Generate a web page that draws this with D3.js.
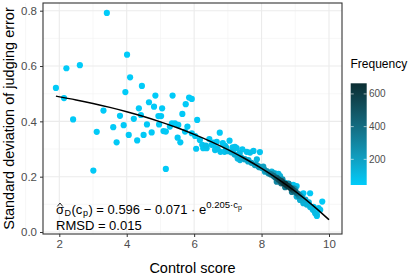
<!DOCTYPE html>
<html>
<head>
<meta charset="utf-8">
<style>
  html, body { margin: 0; padding: 0; background: white; }
  svg { display: block; font-family: "Liberation Sans", Arial, sans-serif; }
</style>
</head>
<body>
<svg width="415" height="277"></svg>
<script src="https://cdnjs.cloudflare.com/ajax/libs/d3/7.8.5/d3.min.js"></script>
<script>
// observed points: control score, sd of judging error, frequency
const controlScore = [
  1.90, 2.14, 2.21, 2.41, 2.61, 3.01, 3.11, 3.31, 3.41, 3.60,
  3.70, 3.80, 3.91, 3.96, 4.01, 4.06, 4.10, 4.21, 4.31, 4.36,
  4.42, 4.45, 4.50, 4.60, 4.66, 4.74, 4.81, 4.85, 4.94, 4.96,
  5.02, 5.05, 5.09, 5.16, 5.16, 5.28, 5.34, 5.36, 5.43, 5.51,
  5.53, 5.59, 5.65, 5.73, 5.75, 5.80, 5.85, 5.93, 5.93, 6.03,
  6.06, 6.09, 6.17, 6.24, 6.27, 6.37, 6.45, 6.52, 6.57, 6.62,
  6.64, 6.67, 6.76, 6.78, 6.85, 6.90, 6.92, 7.05, 7.14, 7.21,
  7.26, 7.29, 7.36, 7.38, 7.43, 7.51, 7.56, 7.61, 7.66, 7.76,
  7.83, 7.86, 7.93, 7.95, 8.05, 8.10, 8.20, 8.30, 8.40, 8.50,
  8.55, 7.00, 7.10, 7.20, 7.30, 7.40, 7.50, 7.60, 7.70, 7.80,
  7.90, 7.15, 7.35, 8.00, 8.08, 8.15, 8.22, 8.28, 8.35, 8.40,
  8.45, 8.50, 8.55, 8.60, 8.65, 8.70, 8.75, 8.80, 8.85, 8.90,
  8.95, 9.00, 9.05, 9.10, 9.15, 9.20, 9.30, 9.40, 8.45, 8.62,
  8.70, 8.80, 8.95, 8.35, 8.58, 8.90, 9.00, 9.10, 8.60, 8.70,
  8.80, 8.94, 9.04, 9.24, 9.44, 9.14, 9.80, 9.37, 9.64, 9.23,
  9.04, 9.14, 9.24, 9.34, 9.44, 9.52, 9.59, 9.64, 9.69, 9.74,
  9.54, 6.35, 6.70, 6.95
];
const sdError = [
  0.521, 0.484, 0.592, 0.407, 0.603, 0.222, 0.362, 0.439, 0.792, 0.379,
  0.324, 0.420, 0.386, 0.506, 0.641, 0.351, 0.559, 0.409, 0.331, 0.447,
  0.423, 0.528, 0.351, 0.389, 0.469, 0.360, 0.453, 0.493, 0.419, 0.389,
  0.419, 0.447, 0.365, 0.363, 0.228, 0.381, 0.393, 0.493, 0.393, 0.341,
  0.387, 0.324, 0.427, 0.363, 0.462, 0.381, 0.486, 0.481, 0.357, 0.347,
  0.301, 0.405, 0.333, 0.315, 0.303, 0.303, 0.336, 0.315, 0.323, 0.296,
  0.303, 0.326, 0.359, 0.290, 0.321, 0.290, 0.311, 0.330, 0.306, 0.308,
  0.303, 0.266, 0.260, 0.270, 0.299, 0.263, 0.290, 0.260, 0.287, 0.293,
  0.245, 0.263, 0.234, 0.289, 0.236, 0.218, 0.212, 0.218, 0.212, 0.210,
  0.202, 0.292, 0.288, 0.280, 0.272, 0.268, 0.263, 0.255, 0.250, 0.242,
  0.238, 0.295, 0.285, 0.232, 0.226, 0.220, 0.212, 0.208, 0.203, 0.198,
  0.196, 0.190, 0.186, 0.183, 0.176, 0.174, 0.168, 0.165, 0.160, 0.155,
  0.150, 0.146, 0.140, 0.136, 0.130, 0.125, 0.117, 0.107, 0.182, 0.190,
  0.162, 0.175, 0.158, 0.212, 0.176, 0.145, 0.155, 0.130, 0.185, 0.178,
  0.174, 0.170, 0.166, 0.140, 0.140, 0.134, 0.110, 0.106, 0.058, 0.116,
  0.128, 0.116, 0.104, 0.099, 0.090, 0.080, 0.068, 0.062, 0.086, 0.080,
  0.091, 0.312, 0.300, 0.305
];
const frequency = [
  50, 50, 48, 52, 47, 55, 50, 49, 45, 51,
  53, 50, 52, 48, 46, 54, 47, 50, 52, 49,
  51, 48, 53, 52, 50, 55, 49, 48, 53, 54,
  52, 50, 56, 55, 50, 54, 53, 49, 56, 57,
  55, 58, 52, 58, 50, 57, 49, 50, 60, 62,
  64, 52, 66, 68, 70, 72, 60, 70, 66, 75,
  74, 62, 55, 78, 66, 80, 70, 62, 75, 80,
  82, 110, 120, 100, 72, 130, 80, 140, 85, 78,
  170, 120, 190, 70, 200, 160, 150, 120, 110, 110,
  140, 110, 130, 150, 140, 170, 190, 160, 200, 210,
  230, 90, 100, 180, 220, 260, 300, 350, 400, 380,
  450, 500, 520, 560, 600, 640, 620, 580, 600, 520,
  480, 420, 380, 300, 250, 200, 160, 120, 300, 250,
  350, 300, 280, 200, 400, 350, 200, 260, 90, 80,
  75, 70, 70, 60, 55, 90, 50, 70, 55, 80,
  150, 160, 140, 130, 120, 110, 100, 90, 70, 80,
  75, 90, 85, 110
];

// fitted curve sd = 0.596 - 0.071 * e^(0.205 c), read at these scores
const fitScore = [1.9, 2.5, 3, 3.5, 4, 4.5, 5, 5.5, 6, 6.5, 7, 7.5, 8, 8.5, 9, 9.5, 10];
const fitSd = [0.4912, 0.4775, 0.4647, 0.4505, 0.4348, 0.4174, 0.3981, 0.3768, 0.3531,
               0.3269, 0.2978, 0.2656, 0.2300, 0.1905, 0.1467, 0.0982, 0.0445];

const xTicks = [2, 4, 6, 8, 10];
const yTicks = [0, 0.2, 0.4, 0.6, 0.8];
const legendTicks = [200, 400, 600];

const svg = d3.select("svg");
const panel = {left: 43, right: 342, top: 3, bottom: 234};

const x = d3.scaleLinear().domain([2, 10]).range([59.3, 329]);
const y = d3.scaleLinear().domain([0, 0.8]).range([232, 10.7]);
const color = d3.scaleLinear().domain([43, 665])
  .range(["#00CCFA", "#0B2E33"]).interpolate(d3.interpolateLab);

// grid
const g = svg.append("g");
const xMinor = [1, 3, 5, 7, 9];
const yMinor = [0.1, 0.3, 0.5, 0.7];
g.selectAll(".xmin").data(xMinor).join("line")
  .attr("x1", d => x(d)).attr("x2", d => x(d))
  .attr("y1", panel.top).attr("y2", panel.bottom)
  .attr("stroke", "#F2F2F2").attr("stroke-width", 0.6);
g.selectAll(".ymin").data(yMinor).join("line")
  .attr("x1", panel.left).attr("x2", panel.right)
  .attr("y1", d => y(d)).attr("y2", d => y(d))
  .attr("stroke", "#F2F2F2").attr("stroke-width", 0.6);
g.selectAll(".xmaj").data(xTicks).join("line")
  .attr("x1", d => x(d)).attr("x2", d => x(d))
  .attr("y1", panel.top).attr("y2", panel.bottom)
  .attr("stroke", "#EBEBEB").attr("stroke-width", 1.1);
g.selectAll(".ymaj").data(yTicks).join("line")
  .attr("x1", panel.left).attr("x2", panel.right)
  .attr("y1", d => y(d)).attr("y2", d => y(d))
  .attr("stroke", "#EBEBEB").attr("stroke-width", 1.1);

// points, darker on top
const pts = controlScore.map((c, i) => ({c: c, s: sdError[i], f: frequency[i]}))
  .sort((a, b) => a.f - b.f);
svg.append("g").selectAll("circle").data(pts).join("circle")
  .attr("cx", d => x(d.c)).attr("cy", d => y(d.s)).attr("r", 3.1)
  .attr("fill", d => color(d.f));

// fitted line
const line = d3.line().x((d, i) => x(fitScore[i])).y(d => y(d)).curve(d3.curveMonotoneX);
svg.append("path").attr("d", line(fitSd))
  .attr("fill", "none").attr("stroke", "black").attr("stroke-width", 1.5);

// border
svg.append("rect")
  .attr("x", panel.left).attr("y", panel.top)
  .attr("width", panel.right - panel.left).attr("height", panel.bottom - panel.top)
  .attr("fill", "none").attr("stroke", "#333").attr("stroke-width", 1.1);

// axes
const xAxis = svg.append("g").attr("transform", `translate(0,${panel.bottom})`)
  .call(d3.axisBottom(x).tickValues(xTicks).tickSize(3).tickPadding(3));
const yAxis = svg.append("g").attr("transform", `translate(${panel.left},0)`)
  .call(d3.axisLeft(y).tickValues(yTicks).tickFormat(d3.format(".1f")).tickSize(3).tickPadding(3));
[xAxis, yAxis].forEach(a => {
  a.select(".domain").remove();
  a.selectAll(".tick line").attr("stroke", "#333");
  a.selectAll(".tick text").attr("fill", "#4D4D4D")
    .style("font-size", "11.5px").style("font-family", "Liberation Sans, Arial, sans-serif");
});

// axis titles
svg.append("text").attr("x", (panel.left + panel.right) / 2).attr("y", 273)
  .attr("text-anchor", "middle").style("font-size", "14.5px").text("Control score");
svg.append("text")
  .attr("transform", `translate(14,${(panel.top + panel.bottom) / 2}) rotate(-90)`)
  .attr("text-anchor", "middle").style("font-size", "14.5px")
  .text("Standard deviation of judging error");

// annotation (hat over sigma drawn as a small chevron)
svg.append("path").attr("d", "M57.3,206.4 L60,203 L62.7,206.4")
  .attr("fill", "none").attr("stroke", "black").attr("stroke-width", 0.8);
const ann = svg.append("text").attr("x", 56).attr("y", 214.2).style("font-size", "13px");
ann.append("tspan").text("\u03C3");
ann.append("tspan").attr("dx", 0.5).attr("dy", 2).style("font-size", "9px").text("D");
ann.append("tspan").attr("dx", 0.5).attr("dy", -2).text("(c");
ann.append("tspan").attr("dx", 0.5).attr("dy", 2).style("font-size", "9px").text("p");
ann.append("tspan").attr("dx", 0.5).attr("dy", -2).text(") = 0.596 \u2212 0.071 \u00B7 e");
ann.append("tspan").attr("dy", -6).style("font-size", "9.5px").text("0.205\u00B7c");
ann.append("tspan").attr("dy", 2).style("font-size", "7px").text("p");
svg.append("text").attr("x", 56).attr("y", 229.5).style("font-size", "13px")
  .text("RMSD = 0.015");

// legend
const lg = svg.append("g");
lg.append("text").attr("x", 350.5).attr("y", 68).style("font-size", "12px").text("Frequency");
const defs = svg.append("defs");
const grad = defs.append("linearGradient").attr("id", "fgrad")
  .attr("x1", 0).attr("x2", 0).attr("y1", 1).attr("y2", 0);
d3.range(0, 1.001, 0.1).forEach(t => {
  grad.append("stop").attr("offset", t).attr("stop-color", color(43 + t * (665 - 43)));
});
const ly = d3.scaleLinear().domain([43, 665]).range([185, 83.3]);
lg.append("rect").attr("x", 350.7).attr("y", 83.3).attr("width", 16).attr("height", 185 - 83.3)
  .attr("fill", "url(#fgrad)");
lg.selectAll(".tl").data(legendTicks).join("line")
  .attr("x1", 350.7).attr("x2", 353.7).attr("y1", d => ly(d)).attr("y2", d => ly(d))
  .attr("stroke", "white").attr("stroke-opacity", 0.6);
lg.selectAll(".tr").data(legendTicks).join("line")
  .attr("x1", 363.7).attr("x2", 366.7).attr("y1", d => ly(d)).attr("y2", d => ly(d))
  .attr("stroke", "white").attr("stroke-opacity", 0.6);
lg.selectAll(".lt").data(legendTicks).join("text")
  .attr("x", 369).attr("y", d => ly(d)).attr("dy", "0.35em")
  .style("font-size", "10px").attr("fill", "#4D4D4D").text(d => d);
</script>
</body>
</html>
